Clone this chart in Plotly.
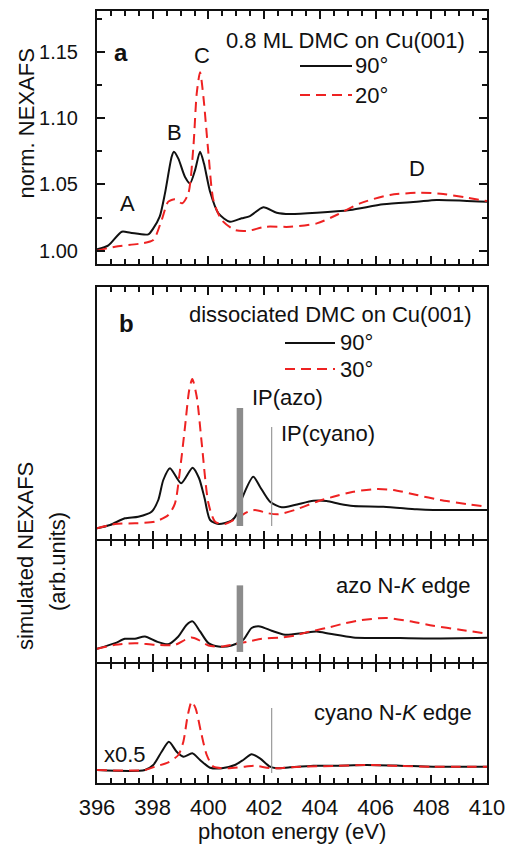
import plotly.graph_objects as go

# ---------------- data ----------------
# (a) measured N K-edge NEXAFS, 0.8 ML DMC on Cu(001)
energy_a_90 = [396.0, 396.41, 396.89, 397.2, 397.84, 398.02, 398.25, 398.44, 398.68, 398.76,
               398.92, 399.16, 399.34, 399.52, 399.70, 399.84, 400.06, 400.36, 400.77, 401.19,
               401.49, 401.97, 402.45, 402.93, 403.89, 405.08, 406.28, 407.48, 408.19, 409.15, 410.0]
nexafs_90 = [1.001, 1.004, 1.0143, 1.0135, 1.0123, 1.0168, 1.0256, 1.0432, 1.0708, 1.0746,
             1.0694, 1.0556, 1.0508, 1.0607, 1.0746, 1.0657, 1.0444, 1.0281, 1.0218, 1.0244,
             1.0261, 1.0327, 1.0286, 1.0276, 1.0286, 1.0307, 1.035, 1.0369, 1.0382, 1.0377, 1.0369]

energy_a_20 = [396.0, 396.65, 397.6, 398.02, 398.32, 398.56, 398.8, 399.06, 399.28, 399.46,
               399.58, 399.70, 399.82, 400.0, 400.18, 400.48, 400.95, 401.43, 402.03, 402.93,
               403.89, 404.6, 405.44, 406.52, 407.6, 408.43, 409.27, 410.0]
nexafs_20 = [1.000, 1.003, 1.0055, 1.008, 1.023, 1.037, 1.0387, 1.0357, 1.0432, 1.0784,
             1.1186, 1.1345, 1.116, 1.0734, 1.038, 1.023, 1.0156, 1.015, 1.018, 1.018,
             1.0206, 1.0269, 1.0357, 1.042, 1.0437, 1.0427, 1.04, 1.0374]

# (b) simulated spectra, dissociated DMC (arb. units)
energy_b1_90 = [396.0, 396.47, 397.0, 397.48, 397.96, 398.2, 398.38, 398.62, 399.02, 399.43,
                399.66, 399.86, 400.06, 400.36, 400.83, 401.04, 401.23, 401.61, 401.85, 402.21,
                402.63, 403.1, 403.77, 404.24, 404.72, 405.2, 406.28, 407.48, 408.07, 410.0]
sim_b1_90 = [1.17, 1.5, 2.17, 2.33, 2.83, 4.0, 6.0, 7.17, 5.67, 7.23,
             6.2, 4.2, 2.0, 1.6, 1.93, 2.67, 4.33, 6.33, 5.33, 3.83,
             3.27, 3.5, 3.93, 3.9, 3.6, 3.4, 3.33, 3.07, 3.0, 3.0]

energy_b1_30 = [396.0, 396.65, 397.36, 398.08, 398.56, 398.8, 398.98, 399.16, 399.31, 399.42,
                399.58, 399.76, 400.0, 400.24, 400.6, 401.01, 401.43, 401.67, 402.15, 402.5,
                403.1, 403.89, 404.48, 405.2, 406.04, 406.64, 407.48, 408.31, 409.27, 410.0]
sim_b1_30 = [1.17, 1.6, 1.67, 1.83, 2.5, 3.67, 7.0, 11.33, 15.0, 16.1,
             14.33, 9.67, 3.67, 1.83, 1.6, 2.17, 2.83, 3.0, 2.67, 2.57,
             3.0, 3.83, 4.33, 4.83, 5.1, 5.0, 4.5, 4.0, 3.6, 3.33]

# azo N-K edge
energy_b2_90 = [396.0, 396.65, 397.0, 397.36, 397.72, 398.14, 398.56, 398.92, 399.22, 399.43,
                399.7, 400.0, 400.36, 400.83, 401.25, 401.55, 401.85, 402.27, 402.75, 403.4,
                403.88, 404.36, 405.2, 406.88, 408.07, 410.0]
sim_b2_90 = [1.4, 1.97, 2.4, 2.4, 2.63, 2.13, 1.87, 2.63, 3.8, 4.13,
             3.13, 1.97, 1.63, 1.73, 2.3, 3.47, 3.63, 3.2, 2.8, 2.97,
             3.13, 2.9, 2.53, 2.47, 2.43, 2.5]

energy_b2_30 = [396.0, 396.65, 397.36, 398.08, 398.8, 399.16, 399.4, 399.64, 400.0, 400.48,
                400.95, 401.43, 401.91, 402.63, 403.1, 403.65, 404.24, 404.84, 405.44, 406.4,
                407.24, 408.07, 409.03, 410.0]
sim_b2_30 = [1.4, 1.8, 1.97, 1.8, 1.8, 2.3, 2.53, 2.3, 1.73, 1.63,
             1.87, 2.13, 2.4, 2.53, 2.73, 3.13, 3.47, 3.9, 4.23, 4.47,
             4.13, 3.7, 3.3, 2.9]

# cyano N-K edge (x0.5)
energy_b3_90 = [396.0, 397.72, 398.02, 398.32, 398.58, 398.86, 399.1, 399.42, 399.7, 400.06,
                400.48, 400.95, 401.25, 401.55, 401.85, 402.21, 402.45, 402.93, 403.77, 404.48,
                405.68, 406.88, 408.07, 410.0]
sim_b3_90 = [1.3, 1.3, 1.8, 3.13, 4.13, 3.13, 2.63, 2.97, 2.3, 1.53,
             1.47, 1.8, 2.3, 2.87, 2.47, 1.63, 1.47, 1.57, 1.73, 1.73,
             1.8, 1.73, 1.63, 1.63]

energy_b3_30 = [396.0, 397.72, 398.08, 398.56, 398.92, 399.1, 399.26, 399.4, 399.54, 399.73,
                399.94, 400.18, 400.71, 401.31, 401.67, 402.27, 403.29, 404.48, 405.68, 406.88,
                408.07, 410.0]
sim_b3_30 = [1.3, 1.3, 1.63, 2.07, 2.8, 4.13, 6.8, 8.13, 7.47, 5.13,
             2.8, 1.63, 1.47, 1.63, 1.73, 1.47, 1.63, 1.7, 1.8, 1.7,
             1.63, 1.63]

# ionization potentials (eV) and the extent of their markers in each panel
ip_azo = 401.13
ip_cyano = 402.27
ip_azo_b1 = [1.4, 13.2]
ip_azo_b2 = [1.1, 7.7]
ip_cyano_b1 = [1.4, 11.3]
ip_cyano_b3 = [1.0, 7.5]

x_ticks = [396, 398, 400, 402, 404, 406, 408, 410]
y_ticks_a = [1.00, 1.05, 1.10, 1.15]

# ---------------- figure ----------------
W, H = 505, 844
FONT = "Liberation Sans, Arial, sans-serif"
BLACK = "#111111"
RED = "#ee2222"
GRAY = "#8c8c8c"
DASH = "10px,6px"


def px(x):
    return x / W


def py(y):
    return 1 - y / H


fig = go.Figure()

panels = [
    ("x", "y", energy_a_90, nexafs_90, energy_a_20, nexafs_20),
    ("x2", "y2", energy_b1_90, sim_b1_90, energy_b1_30, sim_b1_30),
    ("x3", "y3", energy_b2_90, sim_b2_90, energy_b2_30, sim_b2_30),
    ("x4", "y4", energy_b3_90, sim_b3_90, energy_b3_30, sim_b3_30),
]
for xa, ya, e90, s90, eoff, soff in panels:
    fig.add_trace(go.Scatter(x=e90, y=s90, xaxis=xa, yaxis=ya, mode="lines",
                             line=dict(color=BLACK, width=2, shape="spline", smoothing=0.7),
                             showlegend=False, hoverinfo="skip"))
    fig.add_trace(go.Scatter(x=eoff, y=soff, xaxis=xa, yaxis=ya, mode="lines",
                             line=dict(color=RED, width=2, dash=DASH, shape="spline",
                                       smoothing=0.7),
                             showlegend=False, hoverinfo="skip"))

# ionization potential markers
for xa, ya, xv, yr, w, col in [("x2", "y2", ip_azo, ip_azo_b1, 6.5, GRAY),
                               ("x3", "y3", ip_azo, ip_azo_b2, 6.5, GRAY),
                               ("x2", "y2", ip_cyano, ip_cyano_b1, 1.2, "#9a9a9a"),
                               ("x4", "y4", ip_cyano, ip_cyano_b3, 1.2, "#9a9a9a")]:
    fig.add_trace(go.Scatter(x=[xv, xv], y=yr, xaxis=xa, yaxis=ya, mode="lines",
                             line=dict(color=col, width=w),
                             showlegend=False, hoverinfo="skip"))

x_dom = [px(97), px(487)]
LW = 2


def xaxis(anchor, labels=False):
    return dict(domain=x_dom, anchor=anchor, range=[396, 410], showline=True,
                linecolor=BLACK, linewidth=LW, mirror="ticks", ticks="inside",
                ticklen=8, tickwidth=1.6, tickcolor=BLACK, tickvals=x_ticks,
                minor=dict(ticks="inside", dtick=0.5, tick0=396, ticklen=5,
                           tickwidth=1.6, tickcolor=BLACK, showgrid=False),
                showgrid=False, zeroline=False, showticklabels=labels,
                ticklabeloverflow="allow", automargin=False,
                tickfont=dict(family=FONT, size=22, color=BLACK), ticklabelstandoff=4)


def yaxis_b(anchor, dom, rng):
    return dict(domain=dom, anchor=anchor, range=rng, showline=True, linecolor=BLACK,
                linewidth=LW, mirror=True, ticks="", showticklabels=False,
                showgrid=False, zeroline=False, automargin=False)


fig.update_layout(
    width=W, height=H, margin=dict(l=0, r=0, t=0, b=0, autoexpand=False),
    paper_bgcolor="white", plot_bgcolor="white",
    font=dict(family=FONT, size=22, color=BLACK),
    xaxis=xaxis("y"),
    yaxis=dict(domain=[py(264), py(11)], anchor="x", range=[0.98995, 1.1807],
               showline=True, linecolor=BLACK, linewidth=LW, mirror="ticks",
               ticks="inside", ticklen=8, tickwidth=1.6, tickcolor=BLACK,
               tickvals=y_ticks_a, ticktext=[f"{v:.2f}" for v in y_ticks_a],
               minor=dict(ticks="inside", dtick=0.025, tick0=1.0, ticklen=5,
                          tickwidth=1.6, tickcolor=BLACK, showgrid=False),
               showgrid=False, zeroline=False, automargin=False,
               tickfont=dict(family=FONT, size=20, color=BLACK), ticklabelstandoff=13),
    xaxis2=xaxis("y2"),
    yaxis2=yaxis_b("x2", [py(539), py(287)], [0.1, 25.3]),
    xaxis3=xaxis("y3"),
    yaxis3=yaxis_b("x3", [py(662), py(541)], [0.1, 12.1]),
    xaxis4=xaxis("y4", labels=True),
    yaxis4=yaxis_b("x4", [py(783), py(664)], [0, 11.9]),
)

ann = []


def text(x, y, s, size=22, xanchor="center", bold=False, angle=0):
    if bold:
        s = f"<b>{s}</b>"
    ann.append(dict(x=px(x), y=py(y), xref="paper", yref="paper", text=s,
                    showarrow=False, xanchor=xanchor, yanchor="middle",
                    textangle=angle, font=dict(family=FONT, size=size, color=BLACK)))


# panel (a) texts
text(120.5, 52.5, "a", size=24, bold=True)
text(345, 40, "0.8 ML DMC on Cu(001)")
text(353, 66, "90°", xanchor="left")
text(353, 95, "20°", xanchor="left")
for label, xv, yv in [("A", 397.08, 1.0359), ("B", 398.78, 1.0894),
                      ("C", 399.77, 1.1475), ("D", 407.47, 1.0622)]:
    ann.append(dict(x=xv, y=yv, xref="x", yref="y", text=label, showarrow=False,
                    font=dict(family=FONT, size=22, color=BLACK)))
text(26, 123.5, "norm. NEXAFS", angle=-90)

# panel (b) texts
text(126.5, 323.5, "b", size=24, bold=True)
text(330, 315, "dissociated DMC on Cu(001)")
text(338, 343, "90°", xanchor="left")
text(338, 369, "30°", xanchor="left")
text(250, 397, "IP(azo)", xanchor="left")
text(279, 433, "IP(cyano)", xanchor="left")
text(473, 585, "azo N-<i>K</i> edge", xanchor="right")
text(474, 712, "cyano N-<i>K</i> edge", xanchor="right")
text(125, 754, "x0.5")
text(25, 556, "simulated NEXAFS", angle=-90)
text(57, 562, "(arb.units)", angle=-90)
text(292, 831, "photon energy (eV)")

fig.update_layout(annotations=ann)

# legend samples
shapes = []
for x0, x1, y, color, dash in [(300, 352, 66, BLACK, "solid"), (300, 352, 95, RED, DASH),
                               (285, 335, 343, BLACK, "solid"), (285, 335, 369, RED, DASH)]:
    shapes.append(dict(type="line", xref="paper", yref="paper", x0=px(x0), x1=px(x1),
                       y0=py(y), y1=py(y), line=dict(color=color, width=2, dash=dash)))
fig.update_layout(shapes=shapes)

fig.write_html("out.html")
